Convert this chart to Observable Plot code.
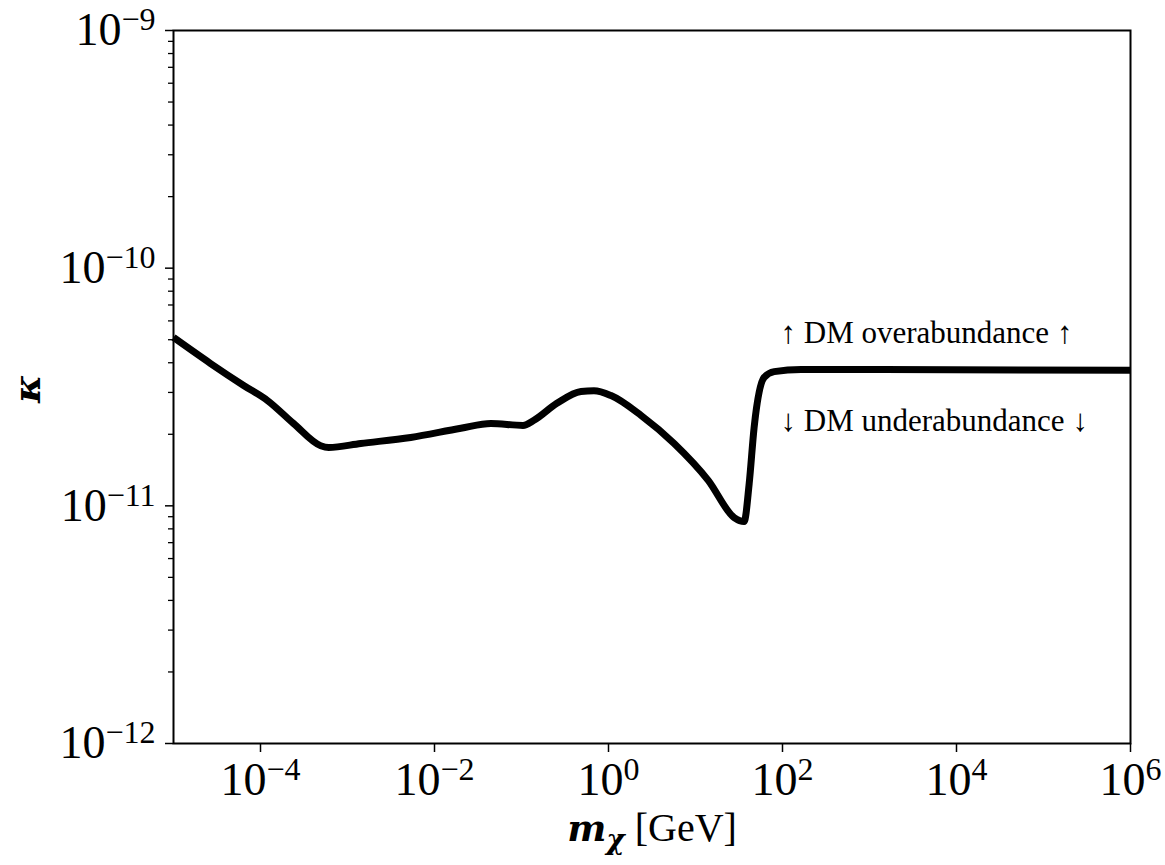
<!DOCTYPE html>
<html><head><meta charset="utf-8">
<script src="https://cdn.jsdelivr.net/npm/d3@7"></script>
<script src="https://cdn.jsdelivr.net/npm/@observablehq/plot@0.6"></script>
<style>body{margin:0;background:#fff}</style>
</head><body><div id="chart"></div>
<script>
// DM mass m_chi [GeV] and coupling kappa along the relic-abundance curve
const massGeV = [1e-5, 2.67e-5, 6.40e-5, 1.21e-4, 2.40e-4, 4.92e-4, 6.08e-4, 1.42e-3, 5.33e-3, 2.01e-2,
  4.45e-2, 0.104, 0.139, 0.255, 0.483, 0.681, 1.07, 2.37, 5.68, 14.0,
  27.8, 36.2, 41.4, 47.2, 61.5, 80.2, 164, 1e6];
const kappa = [5.11e-11, 3.97e-11, 3.21e-11, 2.77e-11, 2.22e-11, 1.79e-11, 1.76e-11, 1.83e-11, 1.94e-11, 2.12e-11,
  2.22e-11, 2.18e-11, 2.29e-11, 2.70e-11, 3.03e-11, 3.05e-11, 2.91e-11, 2.40e-11, 1.83e-11, 1.28e-11,
  8.93e-12, 8.59e-12, 1.24e-11, 2.14e-11, 3.47e-11, 3.67e-11, 3.75e-11, 3.72e-11];

const xTicks = [1e-4, 1e-2, 1, 1e2, 1e4, 1e6];
const xTickLabels = ["10^−4", "10^−2", "10^0", "10^2", "10^4", "10^6"];
const yTicks = [1e-12, 1e-11, 1e-10, 1e-9];
const yTickLabels = ["10^−12", "10^−11", "10^−10", "10^−9"];
const yMinorMultipliers = [2, 3, 4, 5, 6, 7, 8, 9];

const noteText = ["↑ DM overabundance ↑", "↓ DM underabundance ↓"];
const noteMass = [95, 95];
const noteKappa = [4.82e-11, 2.06e-11];

const xLabel = "m_χ [GeV]";
const yLabel = "κ";

const data = massGeV.map((m, i) => ({m, k: kappa[i]}));
const notes = noteText.map((t, i) => ({t, m: noteMass[i], k: noteKappa[i]}));
const yMinor = [];
for (let i = 0; i < yTicks.length - 1; i++) for (const f of yMinorMultipliers) yMinor.push(yTicks[i] * f);

const serif = "'Liberation Serif', 'DejaVu Serif', serif";

const plot = Plot.plot({
  width: 1165, height: 865,
  marginLeft: 173, marginRight: 35, marginTop: 30, marginBottom: 122,
  style: {fontFamily: serif, background: "white", color: "black"},
  x: {type: "log", domain: [1e-5, 1e6]},
  y: {type: "log", domain: [1e-12, 1e-9]},
  marks: [
    Plot.axisX({ticks: xTicks, tickSize: 9, tickPadding: 10, strokeWidth: 1.5, fontSize: 46,
      tickFormat: d => xTickLabels[xTicks.indexOf(d)], label: null}),
    Plot.axisY({ticks: yMinor, tickSize: 5, strokeWidth: 1.3, tickFormat: () => "", label: null}),
    Plot.axisY({ticks: yTicks, tickSize: 8, tickPadding: 10, strokeWidth: 1.5, fontSize: 46,
      tickFormat: d => yTickLabels[yTicks.indexOf(d)], label: null}),
    Plot.line(data, {x: "m", y: "k", stroke: "black", strokeWidth: 7, strokeLinejoin: "round",
      strokeLinecap: "butt", curve: "monotone-x"}),
    Plot.text(notes, {x: "m", y: "k", text: "t", textAnchor: "start", lineAnchor: "bottom", fontSize: 31, fill: "black"}),
    Plot.frame({stroke: "black", strokeWidth: 2}),
    Plot.text([yLabel], {frameAnchor: "left", dx: -146, dy: 16, rotate: -90, fontSize: 38, fontWeight: "bold",
      fontStyle: "italic", fontFamily: "'DejaVu Serif', serif", fill: "black"}),
    Plot.text([xLabel], {frameAnchor: "bottom", dy: 97, lineAnchor: "bottom", fontSize: 40, fill: "black"})
  ]
});

// superscripts for the tick labels
d3.select(plot).selectAll('g[aria-label="x-axis tick label"] text, g[aria-label="y-axis tick label"] text').each(function() {
  const s = this.textContent;
  const parts = s.split("^");
  if (parts.length < 2) return;
  this.textContent = "";
  const t = d3.select(this);
  t.append("tspan").text(parts[0]);
  t.append("tspan").attr("font-size", 32).attr("dy", -15).text(parts[1]);
});

// x label with bold-italic m and subscript chi
d3.select(plot).selectAll("text").each(function() {
  if (this.textContent === xLabel) {
    this.textContent = "";
    const t = d3.select(this);
    t.append("tspan").attr("font-family", "'DejaVu Serif', serif").attr("font-weight", "bold")
      .attr("font-style", "italic").attr("font-size", 37).text("m");
    t.append("tspan").attr("font-family", "'DejaVu Serif', serif").attr("font-weight", "bold")
      .attr("font-style", "italic").attr("font-size", 28).attr("dy", 8).text("χ");
    t.append("tspan").attr("dy", -8).text(" [GeV]");
  }
});

document.getElementById("chart").appendChild(plot);
</script>
</body></html>
